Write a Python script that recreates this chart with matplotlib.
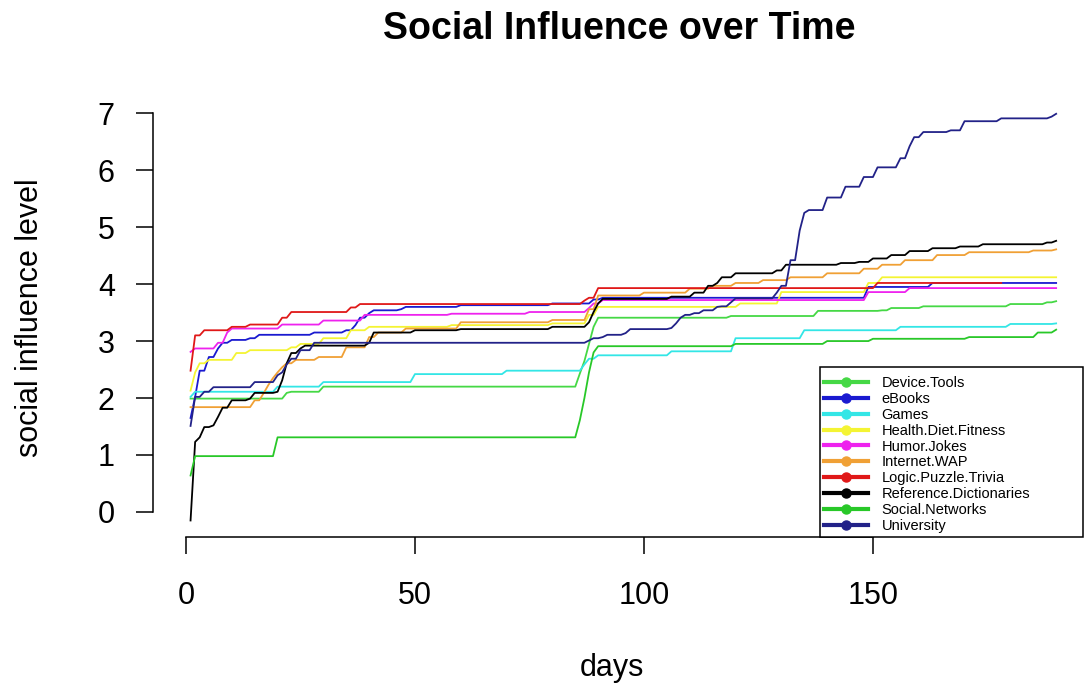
import matplotlib
matplotlib.use('Agg')
import matplotlib.pyplot as plt
import matplotlib.patches as mpatches
from matplotlib.lines import Line2D

plt.rcParams['font.family'] = ['Liberation Sans', 'DejaVu Sans']

# ─────────────────────────────────────────────────────────────
# Data (day of change, level after change)
# ─────────────────────────────────────────────────────────────
device_days = [1, 22, 23, 30, 86, 87, 88, 89, 90, 119, 138, 152, 154, 161, 180, 188, 190]
device_vals = [1.99, 2.09, 2.11, 2.20, 2.43, 2.65, 2.95, 3.25, 3.41, 3.44, 3.53, 3.54, 3.58, 3.61, 3.65, 3.68, 3.70]

ebooks_days = [1, 2, 3, 5, 7, 8, 10, 14, 16, 28, 35, 37, 38, 40, 41, 47, 48, 60, 80, 89, 91, 149, 163, 190]
ebooks_vals = [1.65, 2.02, 2.48, 2.72, 2.87, 2.97, 3.02, 3.05, 3.11, 3.15, 3.19, 3.28, 3.41, 3.49, 3.54, 3.56, 3.60, 3.63, 3.66, 3.73, 3.76, 3.95, 4.02, 4.02]

games_days = [1, 2, 20, 30, 50, 70, 87, 88, 90, 106, 120, 135, 156, 180, 190]
games_vals = [2.02, 2.11, 2.20, 2.28, 2.42, 2.48, 2.59, 2.69, 2.75, 2.82, 3.05, 3.19, 3.25, 3.30, 3.31]

health_days = [1, 2, 3, 5, 11, 14, 23, 25, 30, 36, 40, 58, 80, 88, 90, 121, 130, 149, 152, 190]
health_vals = [2.13, 2.45, 2.61, 2.67, 2.79, 2.84, 2.89, 2.95, 3.05, 3.19, 3.25, 3.28, 3.31, 3.46, 3.60, 3.66, 3.86, 4.02, 4.12, 4.12]

humor_days = [1, 2, 7, 9, 10, 21, 30, 39, 58, 75, 88, 89, 91, 149, 158, 190]
humor_vals = [2.81, 2.87, 2.97, 3.15, 3.22, 3.29, 3.36, 3.46, 3.48, 3.51, 3.58, 3.66, 3.72, 3.86, 3.93, 3.93]

internet_days = [1, 15, 17, 18, 19, 20, 21, 22, 24, 29, 35, 40, 42, 48, 60, 80, 88, 90, 100, 110,
                 115, 120, 126, 132, 140, 148, 152, 157, 164, 171, 185, 190]
internet_vals = [1.84, 1.96, 2.09, 2.23, 2.35, 2.45, 2.54, 2.61, 2.67, 2.72, 2.89, 3.07, 3.15, 3.22, 3.33, 3.37, 3.56, 3.80, 3.85, 3.92,
                 3.97, 4.02, 4.07, 4.12, 4.19, 4.27, 4.34, 4.42, 4.51, 4.56, 4.59, 4.61]

logic_days = [1, 2, 4, 10, 14, 21, 23, 36, 38, 87, 88, 90, 151, 178]
logic_vals = [2.48, 3.10, 3.19, 3.25, 3.29, 3.41, 3.51, 3.59, 3.65, 3.71, 3.76, 3.93, 4.02, 4.02]

reference_days = [1, 2, 3, 4, 6, 7, 8, 10, 14, 15, 20, 21, 22, 23, 25, 26, 40, 41, 50, 60,
                  80, 88, 89, 90, 91, 106, 111, 114, 116, 117, 120, 129, 131, 143, 147, 150, 154, 158, 163, 169,
                  174, 188, 190]
reference_vals = [-0.15, 1.23, 1.31, 1.49, 1.52, 1.67, 1.83, 1.96, 1.99, 2.09, 2.11, 2.31, 2.61, 2.79, 2.87, 2.92, 2.97, 3.15, 3.19, 3.21,
                  3.25, 3.33, 3.51, 3.66, 3.74, 3.78, 3.85, 3.97, 4.02, 4.12, 4.19, 4.24, 4.34, 4.37, 4.39, 4.45, 4.51, 4.58, 4.63, 4.66,
                  4.70, 4.73, 4.76]

social_days = [1, 2, 20, 86, 87, 88, 89, 90, 120, 140, 150, 171, 186, 190]
social_vals = [0.64, 0.98, 1.31, 1.61, 2.00, 2.45, 2.80, 2.91, 2.95, 3.00, 3.04, 3.07, 3.15, 3.20]

university_days = [1, 2, 4, 6, 15, 20, 21, 22, 23, 25, 28, 88, 89, 91, 92, 96, 97, 106, 107, 108,
                   109, 111, 113, 116, 117, 119, 120, 129, 130, 132, 134, 135, 136, 140, 144, 148, 151, 156, 158, 159,
                   161, 167, 170, 178, 189, 190]
university_vals = [1.51, 2.02, 2.11, 2.19, 2.28, 2.40, 2.45, 2.59, 2.69, 2.84, 2.97, 3.01, 3.05, 3.07, 3.11, 3.14, 3.21, 3.23, 3.31, 3.41,
                   3.46, 3.49, 3.54, 3.60, 3.61, 3.68, 3.75, 3.85, 3.97, 4.42, 4.94, 5.25, 5.30, 5.52, 5.71, 5.88, 6.05, 6.21, 6.42, 6.58,
                   6.67, 6.70, 6.86, 6.91, 6.94, 6.99]

labels = ["Device.Tools", "eBooks", "Games", "Health.Diet.Fitness", "Humor.Jokes",
          "Internet.WAP", "Logic.Puzzle.Trivia", "Reference.Dictionaries", "Social.Networks", "University"]
colors = ['#45d845', '#1a1ad0', '#33e6e6', '#f4f433', '#ee22ee',
          '#f0a035', '#e01818', '#000000', '#28c828', '#222288']

series = [(device_days, device_vals), (ebooks_days, ebooks_vals), (games_days, games_vals),
          (health_days, health_vals), (humor_days, humor_vals), (internet_days, internet_vals),
          (logic_days, logic_vals), (reference_days, reference_vals), (social_days, social_vals),
          (university_days, university_vals)]


def daily_line(days, vals):
    # daily series drawn like R type="l": value holds until the day before a change
    xs, ys = [days[0]], [vals[0]]
    for i in range(1, len(days)):
        if days[i] - 1 > days[i - 1]:
            xs.append(days[i] - 1)
            ys.append(vals[i - 1])
        xs.append(days[i])
        ys.append(vals[i])
    return xs, ys


W, H = 1085, 689
fig = plt.figure(figsize=(W / 100, H / 100), dpi=100)
ax = fig.add_axes([153 / W, 1 - 537 / H, (1085 - 153) / W, (537 - 99) / H])

for (d, v), c in zip(series, colors):
    xs, ys = daily_line(d, v)
    ax.plot(xs, ys, color=c, linewidth=1.3)

ax.set_xlim(-7.2, 196.3)
ax.set_ylim(-0.44, 7.25)

for s in ['top', 'right']:
    ax.spines[s].set_visible(False)
ax.spines['left'].set_bounds(0, 7)
ax.spines['bottom'].set_bounds(0, 150)
for s in ['left', 'bottom']:
    ax.spines[s].set_linewidth(1.1)

ax.set_xticks([0, 50, 100, 150])
ax.set_yticks(range(8))
ax.tick_params(axis='both', direction='out', length=12.5, width=1.1, labelsize=22, colors='black')
ax.tick_params(axis='x', pad=19)
ax.tick_params(axis='y', pad=15)

fig.text((153 + 1085) / 2 / W, 1 - 29 / H, "Social Influence over Time", ha='center', va='center',
         fontsize=27, fontweight='bold')
fig.text(612 / W, 1 - 668 / H, "days", ha='center', va='center', fontsize=22)
fig.text(30 / W, 1 - 318 / H, "social influence level", ha='center', va='center', fontsize=22, rotation=90)

# legend box drawn R-style: wider than its text
box = mpatches.Rectangle((820 / W, 1 - 537 / H), 263 / W, 170 / H, transform=fig.transFigure,
                         facecolor='white', edgecolor='black', linewidth=1.1, zorder=5)
fig.add_artist(box)
handles = [Line2D([0], [0], color=c, linewidth=3, marker='o', markersize=6.5) for c in colors]
leg = fig.legend(handles, labels, loc='upper left', bbox_to_anchor=(824 / W, 1 - 376 / H),
                 borderaxespad=0, fontsize=10.5, frameon=False, handlelength=3.0,
                 handletextpad=0.95, labelspacing=0.13, borderpad=0)
leg.set_zorder(6)

fig.savefig('out.png', dpi=100)
